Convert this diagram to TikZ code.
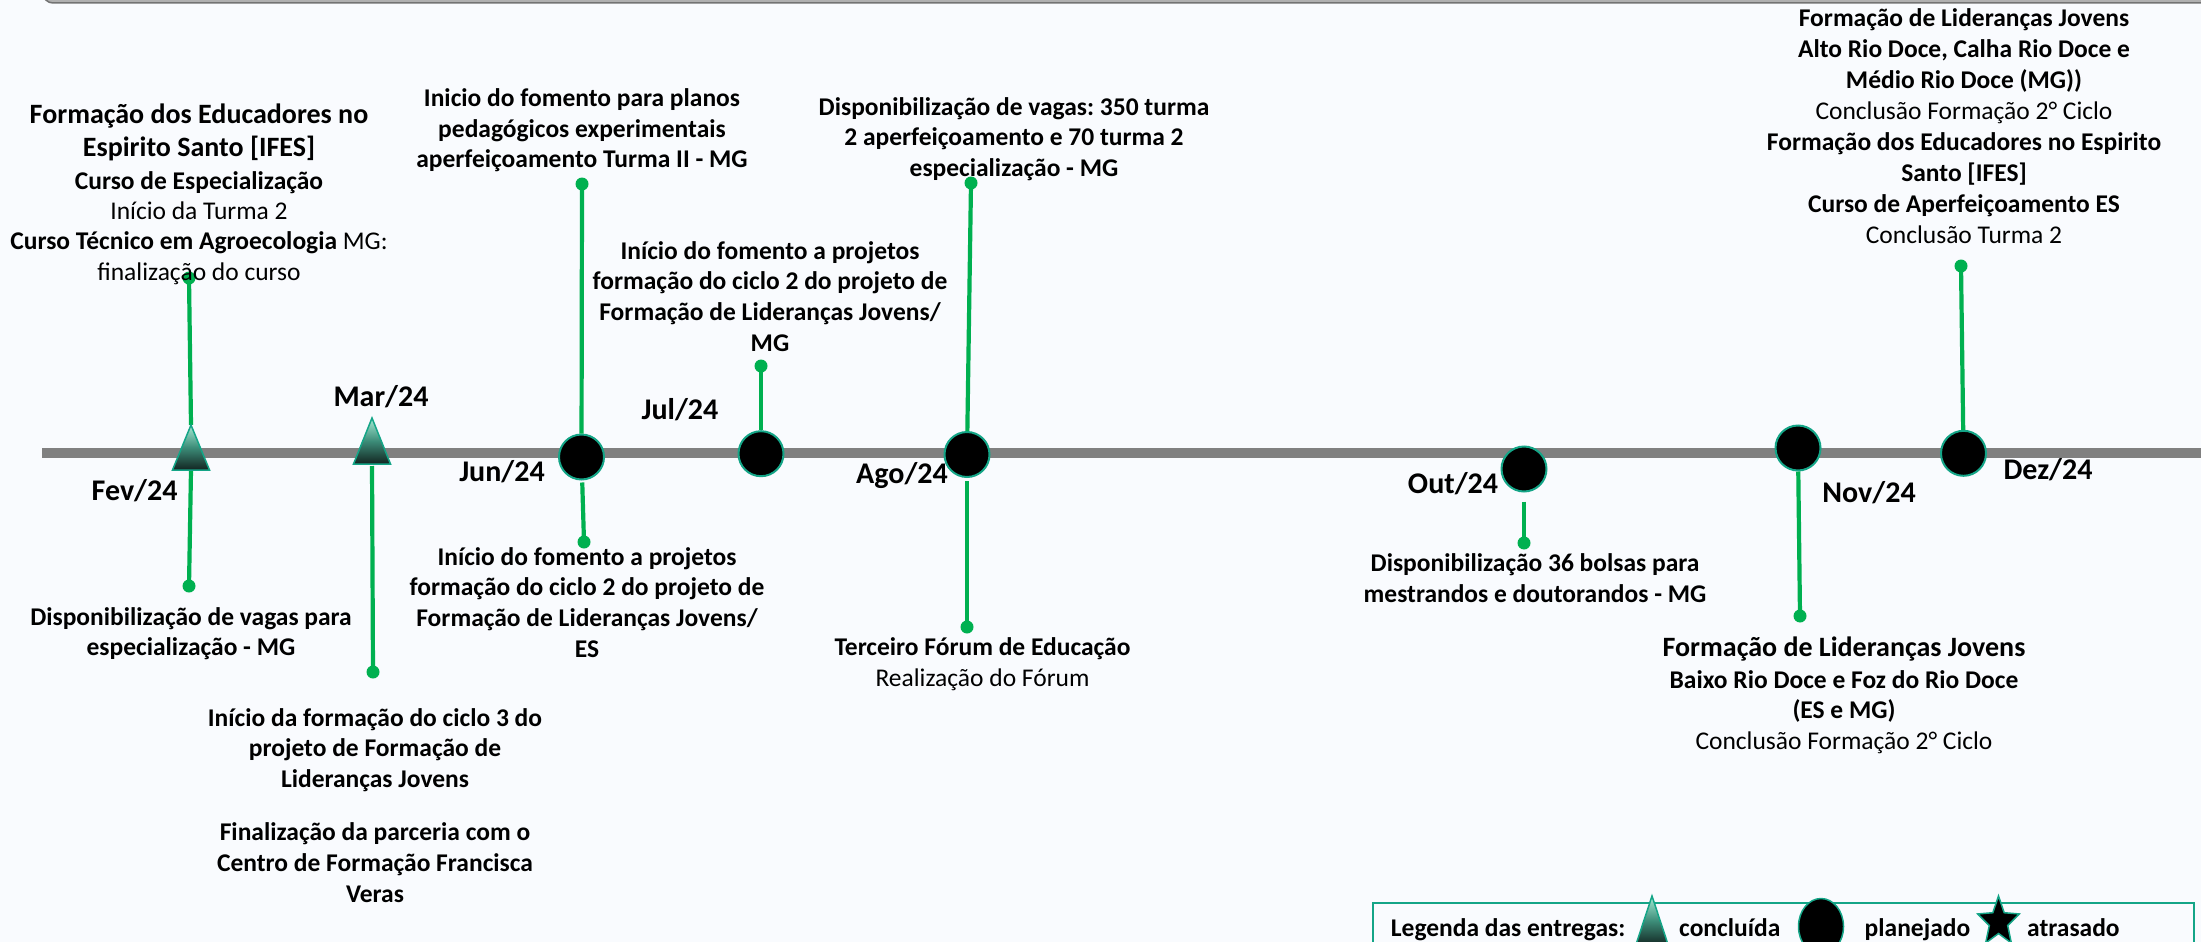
\documentclass[tikz,border=0pt]{standalone}
\usepackage{fontspec}
\setmainfont{Carlito}
\usetikzlibrary{shapes.geometric}
\definecolor{bgc}{RGB}{249,251,254}
\definecolor{tealb}{RGB}{20,165,135}
\definecolor{conn}{RGB}{0,176,80}
\definecolor{barg}{RGB}{128,128,128}
\definecolor{mint}{RGB}{165,235,212}
\definecolor{midt}{RGB}{60,140,120}
\definecolor{darkt}{RGB}{18,36,32}
\newcommand\blk[1]{\begin{tabular}[t]{@{}c@{}}#1\end{tabular}}
\frenchspacing
\begin{document}
\begin{tikzpicture}[x=1pt,y=-1pt,
  lbl/.style={inner sep=0, anchor=base, font=\bfseries\fontsize{25.5}{#1}\selectfont},
  lbl/.default=30.7,
  mon/.style={inner sep=0, anchor=base, font=\bfseries\fontsize{30}{36}\selectfont},
  plan/.style={circle, fill=black, draw=tealb, line width=2, minimum size=45, inner sep=0},
  dotn/.style={circle, fill=conn, inner sep=0, minimum size=13},
  link/.style={draw=conn, line width=4.2},
  tri/.style={top color=mint, bottom color=darkt, middle color=midt, draw=tealb, line width=1.5}
]
\useasboundingbox (0,0) rectangle (2201,942);
\clip (0,0) rectangle (2201,942);
\fill[bgc] (0,0) rectangle (2201,942);

% top frame
\draw[fill=gray!62, draw=gray!90!black, line width=1.5, rounded corners=10] (43,-60) rectangle (2260,3);

% timeline bar
\fill[barg] (42,448) rectangle (2201,458);

% triangle anchor points
\coordinate (fevapex) at (191,425);
\coordinate (fevbase) at (191,470);
\coordinate (marbase) at (372,464);

% planned markers
\node[plan] (jun) at (581.5,457) {};
\node[plan] (jul) at (761,453.7) {};
\node[plan] (ago) at (967,454.5) {};
\node[plan] (out) at (1524,469) {};
\node[plan] (nov) at (1798,448) {};
\node[plan] (dez) at (1963.5,453.3) {};

% end dots
\node[dotn] (fevu) at (189,278) {};
\node[dotn] (fevd) at (189,586) {};
\node[dotn] (mard) at (373,672) {};
\node[dotn] (junu) at (582,184) {};
\node[dotn] (jund) at (584,542) {};
\node[dotn] (julu) at (761,366) {};
\node[dotn] (agou) at (971,183) {};
\node[dotn] (agod) at (967,627) {};
\node[dotn] (outd) at (1524,543) {};
\node[dotn] (novd) at (1800,616) {};
\node[dotn] (dezu) at (1961,266) {};

% connectors
\draw[link] (fevu.center) -- (fevapex);
\draw[link] (fevbase) -- (fevd.center);
\draw[link, shorten <=2] (marbase) -- (mard.center);
\draw[link] (jun) -- (junu.center);
\draw[link, shorten <=2] (jun) -- (jund.center);
\draw[link] (jul) -- (julu.center);
\draw[link] (ago) -- (agou.center);
\draw[link, shorten <=3] (ago) -- (agod.center);
\draw[link, shorten <=9] (out) -- (outd.center);
\draw[link] (nov) -- (novd.center);
\draw[link] (dez) -- (dezu.center);

% completed markers (triangles)
\shadedraw[tri] (172.5,470) -- (fevapex) -- (209.5,470) -- cycle;
\shadedraw[tri] (353.5,464) -- (372,418) -- (390.5,464) -- cycle;

% month labels
\node[mon] (lfev) at (134.6,500.7) {Fev/24};
\node[mon] (lmar) at (381,406.7) {Mar/24};
\node[mon] (ljun) at (502,481.7) {Jun/24};
\node[mon] (ljul) at (680,419.3) {Jul/24};
\node[mon] (lago) at (902,483.3) {Ago/24};
\node[mon] (lout) at (1453,493.3) {Out/24};
\node[mon] (lnov) at (1869,502.7) {Nov/24};
\node[mon] (ldez) at (2048,479.3) {Dez/24};

% event texts
\node[lbl, font=\bfseries\fontsize{28}{33.7}\selectfont] (tfevA) at (199,123) {\blk{Formação dos Educadores no\\Espirito Santo [IFES]}};
\node[lbl=30.3] (tfevB) at (199,189.3) {\blk{Curso de Especialização\\\mdseries Início da Turma 2\\Curso Técnico em Agroecologia \mdseries MG:\\\mdseries finalização do curso}};
\node[lbl=30] (tfevd) at (191,625) {\blk{Disponibilização de vagas para\\especialização - MG}};
\node[lbl] (tmarA) at (375,726) {\blk{Início da formação do ciclo 3 do\\projeto de Formação de\\Lideranças Jovens}};
\node[lbl] (tmarB) at (375,840.7) {\blk{Finalização da parceria com o\\Centro de Formação Francisca\\Veras}};
\node[lbl=30.3] (tjunu) at (582,106.7) {\blk{Inicio do fomento para planos\\pedagógicos experimentais\\aperfeiçoamento Turma II - MG}};
\node[lbl=30.9] (tjund) at (587,565) {\blk{Início do fomento a projetos\\formação do ciclo 2 do projeto de\\Formação de Lideranças Jovens/\\ES}};
\node[lbl=30.7] (tjul) at (770,259) {\blk{Início do fomento a projetos\\formação do ciclo 2 do projeto de\\Formação de Lideranças Jovens/\\MG}};
\node[lbl=30.8] (tagou) at (1014,115) {\blk{Disponibilização de vagas: 350 turma\\2 aperfeiçoamento e 70 turma 2\\especialização - MG}};
\node[lbl=31] (tagod) at (982.5,655) {\blk{Terceiro Fórum de Educação\\\mdseries Realização do Fórum}};
\node[lbl=30.6] (tout) at (1535,571.7) {\blk{Disponibilização 36 bolsas para\\mestrandos e doutorandos - MG}};
\node[lbl, font=\bfseries\fontsize{28}{34}\selectfont] (tnovA) at (1844,656.7) {Formação de Lideranças Jovens};
\node[lbl=30.5] (tnovB) at (1844,688.3) {\blk{Baixo Rio Doce e Foz do Rio Doce\\(ES e MG)\\\mdseries Conclusão Formação 2° Ciclo}};
\node[lbl=30.94] (tdez) at (1964,26.7) {\blk{Formação de Lideranças Jovens\\Alto Rio Doce, Calha Rio Doce e\\Médio Rio Doce (MG))\\\mdseries Conclusão Formação 2° Ciclo\\Formação dos Educadores no Espirito\\Santo [IFES]\\Curso de Aperfeiçoamento ES\\\mdseries Conclusão Turma 2}};

% legend
\draw[tealb, line width=1.5, fill=bgc] (1373,903) rectangle (2194,960);
\node[lbl, anchor=base west] (lg) at (1390.7,936) {Legenda das entregas:};
\shadedraw[tri] (1635.5,946) -- (1652,896) -- (1668.5,946) -- cycle;
\node[lbl, anchor=base west] (lgc) at (1679,936) {concluída};
\node[ellipse, fill=black, draw=tealb, line width=1.5, minimum width=45, minimum height=56, inner sep=0] (lgp) at (1821,926.5) {};
\node[lbl, anchor=base west] (lgpt) at (1864.5,936) {planejado};
\draw[fill=black, draw=tealb, line width=1.5, shift={(1998.5,922)}, xscale=0.84]
  (-90:26) -- (-54:11.5) -- (-18:26) -- (18:11.5) -- (54:26) -- (90:11.5)
  -- (126:26) -- (162:11.5) -- (198:26) -- (234:11.5) -- cycle;
\node[lbl, anchor=base west] (lgat) at (2027,936) {atrasado};
\end{tikzpicture}
\end{document}
